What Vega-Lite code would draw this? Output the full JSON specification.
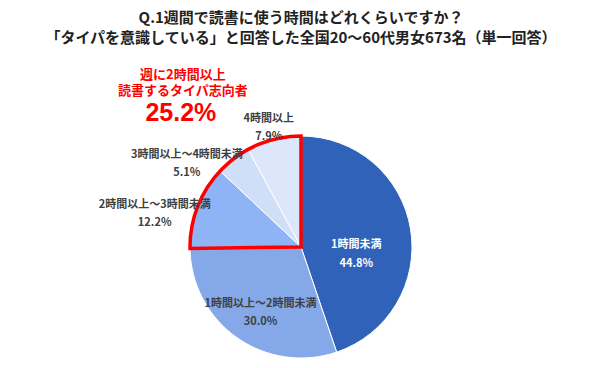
{
  "$schema": "https://vega.github.io/schema/vega-lite/v6.json",
  "width": 602,
  "height": 242,
  "autosize": "none",
  "padding": {"top": 126, "left": 0, "right": 0, "bottom": 0},
  "background": "white",
  "config": {"view": {"stroke": null}, "font": "Noto Sans CJK JP"},
  "title": {
    "text": ["Q.1週間で読書に使う時間はどれくらいですか？", "「タイパを意識している」と回答した全国20～60代男女673名（単一回答）"],
    "anchor": "middle",
    "frame": "group",
    "font": "Noto Sans CJK JP",
    "fontSize": 15,
    "fontWeight": "bold",
    "color": "#222222",
    "lineHeight": 20,
    "offset": 23
  },
  "datasets": {
    "main": [
      {"k": "1時間未満", "pct": "44.8%", "v": 44.8, "o": 1},
      {"k": "1時間以上～2時間未満", "pct": "30.0%", "v": 30.0, "o": 2},
      {"k": "2時間以上～3時間未満", "pct": "12.2%", "v": 12.2, "o": 3},
      {"k": "3時間以上～4時間未満", "pct": "5.1%", "v": 5.1, "o": 4},
      {"k": "4時間以上", "pct": "7.9%", "v": 7.9, "o": 5}
    ],
    "outline": [
      {"g": "2時間未満", "pct": "74.8%", "v": 74.8, "o": 1},
      {"g": "週に2時間以上", "pct": "25.2%", "v": 25.2, "o": 2}
    ]
  },
  "layer": [
    {
      "data": {"name": "main"},
      "mark": {"type": "arc", "outerRadius": 111, "stroke": "white", "strokeWidth": 1},
      "encoding": {
        "theta": {"field": "v", "type": "quantitative", "stack": true},
        "order": {"field": "o", "type": "quantitative"},
        "color": {
          "field": "k", "type": "nominal", "legend": null,
          "scale": {
            "domain": ["1時間未満", "1時間以上～2時間未満", "2時間以上～3時間未満", "3時間以上～4時間未満", "4時間以上"],
            "range": ["#2F62B8", "#85A8E8", "#8EB4F5", "#D0DFF8", "#DCE7FB"]
          }
        }
      }
    },
    {
      "data": {"name": "outline"},
      "mark": {"type": "arc", "outerRadius": 111, "fill": "white", "fillOpacity": 0, "stroke": "#FF0000", "strokeWidth": 3.5, "strokeJoin": "miter"},
      "encoding": {
        "theta": {"field": "v", "type": "quantitative", "stack": true},
        "order": {"field": "o", "type": "quantitative"},
        "strokeOpacity": {"condition": {"test": "datum.g == '週に2時間以上'", "value": 1}, "value": 0}
      }
    },
    {
      "data": {"name": "outline"},
      "mark": {"type": "text", "radius": 166, "dy": -55, "fontSize": 13, "fontWeight": "bold", "color": "#FF0000", "lineBreak": "\n", "lineHeight": 16, "align": "center", "baseline": "middle"},
      "encoding": {
        "theta": {"field": "v", "type": "quantitative", "stack": true},
        "order": {"field": "o", "type": "quantitative"},
        "text": {"condition": {"test": "datum.g == '週に2時間以上'", "value": "週に2時間以上\n読書するタイパ志向者"}, "value": ""}
      }
    },
    {
      "data": {"name": "outline"},
      "mark": {"type": "text", "radius": 166, "dx": -2, "dy": -17, "fontSize": 25, "fontWeight": "bold", "color": "#FF0000", "align": "center", "baseline": "middle", "font": "Liberation Sans"},
      "encoding": {
        "theta": {"field": "v", "type": "quantitative", "stack": true},
        "order": {"field": "o", "type": "quantitative"},
        "text": {"condition": {"test": "datum.g == '週に2時間以上'", "field": "pct"}, "value": ""}
      }
    },
    {
      "data": {"name": "main"},
      "transform": [{"calculate": "datum.k + '\\n' + datum.pct", "as": "lab"}],
      "mark": {"type": "text", "radius": 56, "dy": 7, "fontSize": 11, "fontWeight": "bold", "color": "white", "lineBreak": "\n", "lineHeight": 19, "align": "center", "baseline": "middle"},
      "encoding": {
        "theta": {"field": "v", "type": "quantitative", "stack": true},
        "order": {"field": "o", "type": "quantitative"},
        "text": {"condition": {"test": "datum.o == 1", "field": "lab"}, "value": ""}
      }
    },
    {
      "data": {"name": "main"},
      "transform": [{"calculate": "datum.k + '\\n' + datum.pct", "as": "lab"}],
      "mark": {"type": "text", "radius": 70, "dy": 0, "fontSize": 11, "fontWeight": "bold", "color": "#404040", "lineBreak": "\n", "lineHeight": 18, "align": "center", "baseline": "middle"},
      "encoding": {
        "theta": {"field": "v", "type": "quantitative", "stack": true},
        "order": {"field": "o", "type": "quantitative"},
        "text": {"condition": {"test": "datum.o == 2", "field": "lab"}, "value": ""}
      }
    },
    {
      "data": {"name": "main"},
      "transform": [{"calculate": "datum.k + '\\n' + datum.pct", "as": "lab"}],
      "mark": {"type": "text", "radius": 157, "dy": 15, "fontSize": 11, "fontWeight": "bold", "color": "#404040", "lineBreak": "\n", "lineHeight": 18, "align": "center", "baseline": "middle"},
      "encoding": {
        "theta": {"field": "v", "type": "quantitative", "stack": true},
        "order": {"field": "o", "type": "quantitative"},
        "text": {"condition": {"test": "datum.o == 3", "field": "lab"}, "value": ""}
      }
    },
    {
      "data": {"name": "main"},
      "transform": [{"calculate": "datum.k + '\\n' + datum.pct", "as": "lab"}],
      "mark": {"type": "text", "radius": 146, "dx": -25, "dy": 24, "fontSize": 11, "fontWeight": "bold", "color": "#404040", "lineBreak": "\n", "lineHeight": 18, "align": "center", "baseline": "middle"},
      "encoding": {
        "theta": {"field": "v", "type": "quantitative", "stack": true},
        "order": {"field": "o", "type": "quantitative"},
        "text": {"condition": {"test": "datum.o == 4", "field": "lab"}, "value": ""}
      }
    },
    {
      "data": {"name": "main"},
      "transform": [{"calculate": "datum.k + '\\n' + datum.pct", "as": "lab"}],
      "mark": {"type": "text", "radius": 131, "dy": -1, "fontSize": 11, "fontWeight": "bold", "color": "#404040", "lineBreak": "\n", "lineHeight": 18, "align": "center", "baseline": "middle"},
      "encoding": {
        "theta": {"field": "v", "type": "quantitative", "stack": true},
        "order": {"field": "o", "type": "quantitative"},
        "text": {"condition": {"test": "datum.o == 5", "field": "lab"}, "value": ""}
      }
    }
  ]
}
